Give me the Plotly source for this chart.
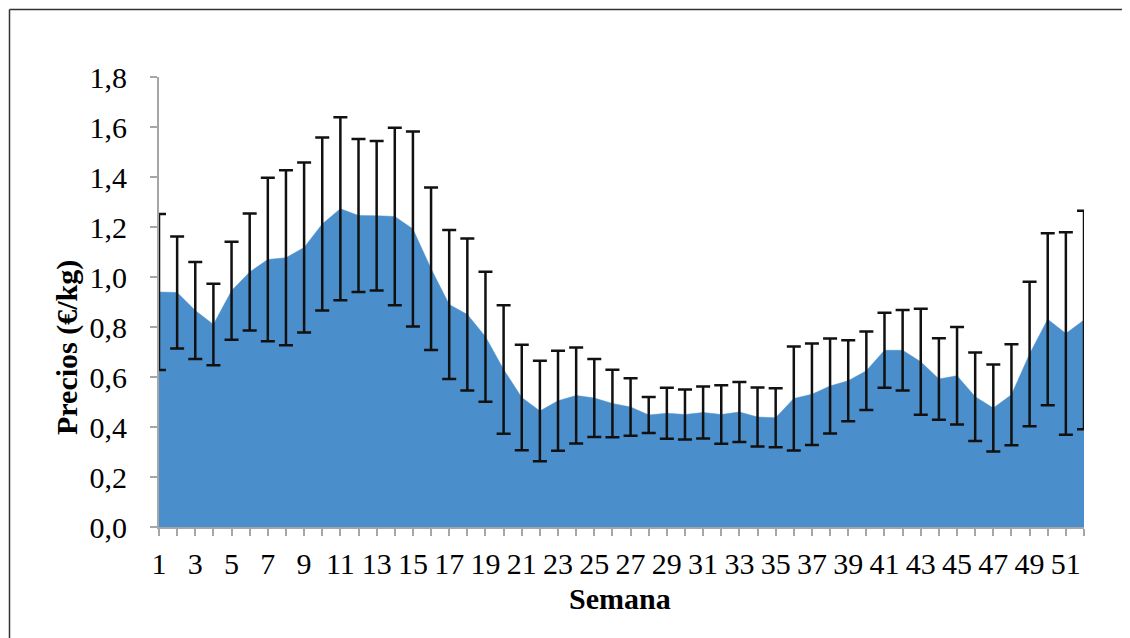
import plotly.graph_objects as go

weeks = list(range(1, 53))
precio = [0.94, 0.938, 0.866, 0.81, 0.945, 1.02, 1.07, 1.077, 1.118, 1.212,
          1.273, 1.246, 1.245, 1.242, 1.192, 1.033, 0.89, 0.85, 0.761, 0.63,
          0.518, 0.464, 0.505, 0.526, 0.516, 0.494, 0.48, 0.448, 0.455, 0.45,
          0.458, 0.45, 0.46, 0.44, 0.437, 0.514, 0.531, 0.564, 0.585, 0.625,
          0.707, 0.707, 0.661, 0.592, 0.605, 0.521, 0.476, 0.529, 0.692, 0.831,
          0.774, 0.828]
error = [0.312, 0.224, 0.194, 0.163, 0.196, 0.234, 0.327, 0.35, 0.34, 0.346,
         0.366, 0.306, 0.299, 0.355, 0.39, 0.325, 0.298, 0.304, 0.26, 0.257,
         0.211, 0.201, 0.2, 0.192, 0.156, 0.135, 0.115, 0.072, 0.102, 0.1,
         0.104, 0.117, 0.12, 0.118, 0.118, 0.208, 0.203, 0.19, 0.162, 0.157,
         0.15, 0.161, 0.212, 0.163, 0.195, 0.177, 0.174, 0.202, 0.289, 0.344,
         0.405, 0.437]
x_ticktext = [str(w) if w % 2 == 1 else "" for w in weeks]
y_ticks = [0, 0.2, 0.4, 0.6, 0.8, 1.0, 1.2, 1.4, 1.6, 1.8]
y_ticktext = [f"{v:.1f}".replace(".", ",") for v in y_ticks]

# page body has an 8px default margin; work in screen pixels minus that offset
OFF = 8
W, H = 1130 - OFF, 638 - OFF
L, R, T, B = 159 - OFF, 46, 77 - OFF, 111
pw, ph = W - L - R, H - T - B

fill_col = "#4B8ECC"
font_fam = "Liberation Serif, Times New Roman, serif"


def px_x(p):
    return (p - OFF - L) / pw


def px_y(p):
    return (H - B - (p - OFF)) / ph


fig = go.Figure()
fig.add_trace(go.Scatter(
    x=weeks, y=precio, mode="lines", fill="tozeroy",
    fillcolor=fill_col, line=dict(color=fill_col, width=0.5),
    hoverinfo="skip", showlegend=False))
fig.add_trace(go.Scatter(
    x=weeks, y=precio, mode="markers",
    marker=dict(size=1, color="rgba(0,0,0,0)"),
    error_y=dict(type="data", array=error, symmetric=True,
                 color="#111111", thickness=2.5, width=7),
    cliponaxis=False, showlegend=False))

fig.update_layout(
    width=W, height=H,
    margin=dict(l=L, r=R, t=T, b=B, pad=0),
    paper_bgcolor="white", plot_bgcolor="white",
    font=dict(family=font_fam, color="black", size=30),
    xaxis=dict(range=[1, 52], tickvals=weeks, ticktext=x_ticktext,
               showgrid=False, zeroline=False, showline=True,
               linecolor="#A6A6A6", linewidth=2,
               ticks="outside", ticklen=7, tickwidth=1.5, tickcolor="#A6A6A6",
               tickfont=dict(size=30, family=font_fam), ticklabelstandoff=2),
    yaxis=dict(range=[0, 1.8], tickvals=y_ticks, ticktext=y_ticktext,
               showgrid=False, zeroline=False, showline=True,
               linecolor="#A6A6A6", linewidth=2,
               ticks="outside", ticklen=7, tickwidth=1.5, tickcolor="#A6A6A6",
               tickfont=dict(size=30, family=font_fam), ticklabelstandoff=17),
)

# axis titles
fig.add_annotation(text="<b>Semana</b>", xref="paper", yref="paper",
                   x=px_x(620), y=px_y(598),
                   showarrow=False, font=dict(size=30, family=font_fam),
                   xanchor="center", yanchor="middle")
fig.add_annotation(text="<b>Precios (€/kg)</b>", xref="paper", yref="paper",
                   x=px_x(67), y=px_y(348), textangle=-90,
                   showarrow=False, font=dict(size=30, family=font_fam),
                   xanchor="center", yanchor="middle")

# outer frame (continues past the visible right and bottom edges)
fig.add_shape(type="line", xref="paper", yref="paper",
              x0=px_x(9.5), y0=px_y(9.5), x1=px_x(1130), y1=px_y(9.5),
              line=dict(color="#333333", width=1.5))
fig.add_shape(type="line", xref="paper", yref="paper",
              x0=px_x(9.5), y0=px_y(9.5), x1=px_x(9.5), y1=px_y(638),
              line=dict(color="#333333", width=1.5))

fig.write_html("out.html")
